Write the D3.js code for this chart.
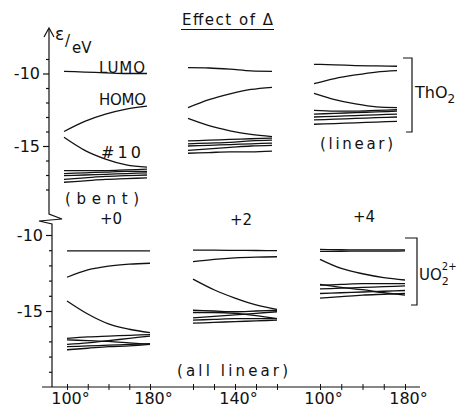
<!DOCTYPE html>
<html>
<head>
<meta charset="utf-8">
<script src="https://cdn.jsdelivr.net/npm/d3@7"></script>
<style>
  body { margin: 0; background: #fff; }
  svg { display: block; }
  text { font-family: "DejaVu Sans", sans-serif; fill: #111; }
</style>
</head>
<body>
<svg width="458" height="408"></svg>
<script>
var angles = [100, 120, 140, 160, 180];

// ThO2, Delta +0 (bent)
var thBentLumo = [-9.85, -9.9, -9.95, -10.0, -10.0];
var thBentHomo = [-14.0, -13.3, -12.8, -12.45, -12.25];
var thBent10   = [-14.4, -15.3, -15.9, -16.3, -16.45];
var thBentCore = [
  [-16.7, -16.7, -16.7, -16.65, -16.6],
  [-16.9, -16.85, -16.8, -16.75, -16.75],
  [-17.05, -17.0, -16.95, -16.9, -16.85],
  [-17.3, -17.2, -17.1, -17.05, -17.0],
  [-17.5, -17.4, -17.3, -17.25, -17.2]
];

// ThO2, Delta +2
var thMidLumo = [-9.6, -9.62, -9.7, -9.82, -9.85];
var thMidHomo = [-12.35, -11.8, -11.4, -11.1, -10.95];
var thMid10   = [-13.1, -13.6, -13.95, -14.2, -14.35];
var thMidCore = [
  [-14.65, -14.6, -14.55, -14.5, -14.45],
  [-14.85, -14.8, -14.75, -14.65, -14.6],
  [-15.0, -14.95, -14.9, -14.85, -14.8],
  [-15.3, -15.2, -15.1, -15.0, -14.95],
  [-15.5, -15.45, -15.4, -15.4, -15.35]
];

// ThO2, Delta +4 (linear)
var thLinLumo = [-9.37, -9.4, -9.45, -9.48, -9.5];
var thLinHomo = [-10.7, -10.35, -10.1, -9.9, -9.8];
var thLin10   = [-11.37, -11.8, -12.1, -12.3, -12.35];
var thLinCore = [
  [-12.55, -12.6, -12.6, -12.55, -12.5],
  [-12.8, -12.75, -12.7, -12.65, -12.6],
  [-13.0, -12.95, -12.9, -12.85, -12.8],
  [-13.2, -13.15, -13.1, -13.05, -13.0],
  [-13.5, -13.45, -13.4, -13.35, -13.3]
];

// UO2 2+, Delta +0
var u0Lumo = [-11.05, -11.05, -11.05, -11.05, -11.05];
var u0Homo = [-12.78, -12.3, -12.05, -11.92, -11.86];
var u010   = [-14.34, -15.2, -15.85, -16.2, -16.42];
var u0Core = [
  [-16.8, -16.7, -16.65, -16.6, -16.55],
  [-16.9, -16.95, -17.0, -17.1, -17.2],
  [-17.2, -17.1, -16.95, -16.8, -16.65],
  [-17.35, -17.3, -17.25, -17.2, -17.15],
  [-17.55, -17.45, -17.35, -17.3, -17.2]
];

// UO2 2+, Delta +2
var u2Lumo = [-11.0, -11.0, -11.01, -11.02, -11.03];
var u2Homo = [-11.75, -11.6, -11.5, -11.45, -11.43];
var u210   = [-12.9, -13.6, -14.15, -14.6, -14.9];
var u2Core = [
  [-14.95, -15.0, -15.05, -15.0, -14.95],
  [-15.1, -15.1, -15.15, -15.3, -15.5],
  [-15.45, -15.35, -15.25, -15.15, -15.05],
  [-15.6, -15.55, -15.5, -15.5, -15.5],
  [-15.8, -15.75, -15.7, -15.65, -15.6]
];

// UO2 2+, Delta +4
var u4Lumo = [-10.95, -10.97, -10.98, -10.98, -10.98];
var u4Homo = [-11.08, -11.07, -11.06, -11.06, -11.05];
var u410   = [-11.6, -12.2, -12.55, -12.8, -12.96];
var u4Core = [
  [-13.3, -13.25, -13.2, -13.2, -13.2],
  [-13.55, -13.5, -13.45, -13.4, -13.35],
  [-13.25, -13.45, -13.6, -13.8, -13.95],
  [-13.85, -13.8, -13.75, -13.7, -13.65],
  [-14.15, -14.05, -13.95, -13.9, -13.85]
];

var yTicksTop = [-9, -10, -11, -12, -13, -14, -15, -16, -17, -18];
var yTicksBot = [-10, -11, -12, -13, -14, -15, -16, -17, -18, -19];
var yLabels = [-10, -15];
var xLabels = [["100°", "180°"], ["140°"], ["100°", "180°"]];

var svg = d3.select("svg");
var ink = "#111";

var yTop = d3.scaleLinear().domain([-10, -15]).range([73.5, 146]);
var yBot = d3.scaleLinear().domain([-10, -15]).range([235, 311]);

var panels = [
  {x: [64, 147],  y: yTop, curves: [thBentLumo, thBentHomo, thBent10].concat(thBentCore)},
  {x: [188, 272], y: yTop, curves: [thMidLumo, thMidHomo, thMid10].concat(thMidCore)},
  {x: [314, 397], y: yTop, curves: [thLinLumo, thLinHomo, thLin10].concat(thLinCore)},
  {x: [67, 150],  y: yBot, curves: [u0Lumo, u0Homo, u010].concat(u0Core)},
  {x: [193, 277], y: yBot, curves: [u2Lumo, u2Homo, u210].concat(u2Core)},
  {x: [320, 405], y: yBot, curves: [u4Lumo, u4Homo, u410].concat(u4Core)}
];

var line = d3.line().curve(d3.curveMonotoneX);

panels.forEach(function(p) {
  var x = d3.scaleLinear().domain([100, 180]).range(p.x);
  svg.append("g").selectAll("path")
    .data(p.curves)
    .enter()
    .append("path")
    .attr("d", function(d) {
      return line(d.map(function(v, i) { return [x(angles[i]), p.y(v)]; }));
    })
    .attr("fill", "none")
    .attr("stroke", ink)
    .attr("stroke-width", 1.3);
});

// left axes
function energyAxis(scale, ticks, xPos) {
  var g = svg.append("g")
    .attr("transform", "translate(" + xPos + ",0)")
    .call(d3.axisLeft(scale).tickValues(ticks).tickSize(3).tickSizeOuter(0)
      .tickFormat(function(d) { return yLabels.indexOf(d) >= 0 ? "-" + Math.abs(d) : ""; }));
  g.select(".domain").remove();
  g.selectAll(".tick line").attr("stroke", ink).attr("stroke-width", 1.2)
    .attr("x2", function(d) { return yLabels.indexOf(d) >= 0 ? -6 : -3; });
  g.selectAll(".tick text").attr("x", -9).attr("font-size", 16)
    .attr("font-family", "DejaVu Sans").attr("fill", ink);
  return g;
}
energyAxis(yTop, yTicksTop, 49);
energyAxis(yBot, yTicksBot, 52);

// axis spine with arrow on top and break between the two parts
svg.append("path")
  .attr("d", "M49,29 L49,214 L62,219 L39,221 L52,224 L52,387")
  .attr("fill", "none").attr("stroke", ink).attr("stroke-width", 1.2);
svg.append("path")
  .attr("d", "M44,37 L49,28 L54,37")
  .attr("fill", "none").attr("stroke", ink).attr("stroke-width", 1.2);

// bottom angle axis
svg.append("line")
  .attr("x1", 42).attr("x2", 420).attr("y1", 387).attr("y2", 387)
  .attr("stroke", ink).attr("stroke-width", 1.2);

panels.slice(3).forEach(function(p, k) {
  var x = d3.scaleLinear().domain([100, 180]).range(p.x);
  var g = svg.append("g")
    .attr("transform", "translate(0,387)")
    .call(d3.axisBottom(x).tickValues(angles).tickSize(3).tickSizeOuter(0)
      .tickFormat(function(d) {
        var lab = xLabels[k];
        if (lab.length === 1) return d === 140 ? lab[0] : "";
        return d === 100 ? lab[0] : (d === 180 ? lab[1] : "");
      }));
  g.select(".domain").remove();
  g.selectAll(".tick line").attr("stroke", ink).attr("y1", -3).attr("y2", 3);
  g.selectAll(".tick text").attr("font-size", 16).attr("font-family", "DejaVu Sans")
    .attr("fill", ink).attr("dx", 3);
});

// texts
function label(txt, x, y, size, width, anchor) {
  var t = svg.append("text").attr("x", x).attr("y", y).attr("font-size", size)
    .attr("text-anchor", anchor || "start").text(txt);
  if (width) t.attr("textLength", width).attr("lengthAdjust", "spacing");
  return t;
}

label("Effect of Δ", 182, 25, 15, 91);
svg.append("line").attr("x1", 181).attr("x2", 274).attr("y1", 29.5).attr("y2", 29.5)
  .attr("stroke", ink).attr("stroke-width", 1.2);

label("ε", 55, 40, 17);
label("/", 65, 46, 15);
label("eV", 72, 53, 15);

label("LUMO", 99, 73, 15, 46);
label("HOMO", 99, 105, 15, 47);
label("#10", 101, 158, 16, 40);
label("(bent)", 65, 204, 15, 74);
label("(linear)", 320, 149, 15, 73);

label("+0", 100, 224, 15);
label("+2", 230, 225, 15);
label("+4", 353, 222, 15);
label("(all linear)", 177, 376, 15, 111);

// molecule brackets
svg.append("path").attr("d", "M403,58 L412,58 L412,132 L406,132")
  .attr("fill", "none").attr("stroke", ink).attr("stroke-width", 1.2);
svg.append("path").attr("d", "M405,238 L417,238 L417,305 L411,305")
  .attr("fill", "none").attr("stroke", ink).attr("stroke-width", 1.2);

var th = svg.append("text").attr("x", 415).attr("y", 98).attr("font-size", 16);
th.append("tspan").text("ThO");
th.append("tspan").attr("font-size", 12).attr("dy", 5).text("2");

var uo = svg.append("text").attr("x", 419).attr("y", 280).attr("font-size", 15);
uo.append("tspan").text("UO");
uo.append("tspan").attr("font-size", 11).attr("dy", 5).text("2");
uo.append("tspan").attr("font-size", 10).attr("dx", -7).attr("dy", -15).text("2+");
</script>
</body>
</html>
